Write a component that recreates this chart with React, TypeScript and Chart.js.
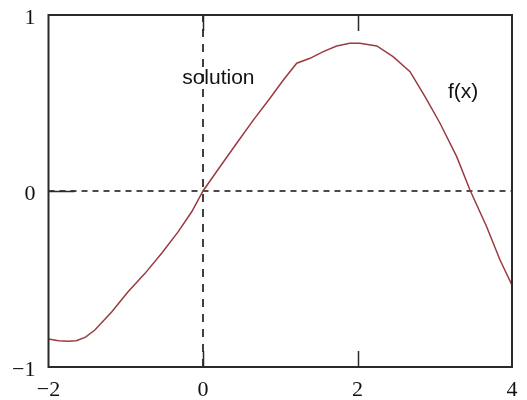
import React, { useEffect, useRef } from "react";
import { Chart, registerables } from "chart.js";

Chart.register(...registerables);

// f(x) sampled across the plotted range
const xValues = [-2, -1.87, -1.75, -1.64, -1.52, -1.4, -1.18, -0.97, -0.75, -0.535, -0.32, -0.146, 0, 0.22, 0.436, 0.651, 0.867, 1.04, 1.213, 1.385, 1.557, 1.73, 1.9, 2.03, 2.25, 2.46, 2.68, 2.874, 3.068, 3.284, 3.456, 3.672, 3.845, 4];
const fValues = [-0.841, -0.851, -0.853, -0.851, -0.83, -0.79, -0.686, -0.572, -0.468, -0.354, -0.231, -0.118, 0, 0.138, 0.271, 0.403, 0.527, 0.631, 0.726, 0.754, 0.792, 0.824, 0.839, 0.839, 0.824, 0.763, 0.678, 0.536, 0.385, 0.195, 0.006, -0.203, -0.392, -0.535];

// marker lines: the solution x = 0 and the zero level y = 0
const solutionX = [0, 0];
const solutionY = [-1, 1];
const zeroX = [-2, 4];
const zeroY = [0, 0];

const xTicks = [-2, 0, 2, 4];
const yTicks = [-1, 0, 1];
const innerTickX = [0, 2];
const innerTickY = [0];

const fmt = (v: number) => (v < 0 ? "\u2212" + Math.abs(v) : String(v));

const framePlugin = {
  id: "frame",
  afterDatasetsDraw(chart: any) {
    const { ctx, chartArea: a, scales } = chart;
    ctx.save();
    ctx.strokeStyle = "#2a2a2a";
    ctx.lineWidth = 2;
    ctx.strokeRect(a.left, a.top, a.right - a.left, a.bottom - a.top);
    ctx.lineWidth = 1.5;
    ctx.beginPath();
    innerTickX.forEach((v) => {
      const px = Math.round(scales.x.getPixelForValue(v)) + 0.5;
      ctx.moveTo(px, a.bottom);
      ctx.lineTo(px, a.bottom - 16);
      ctx.moveTo(px, a.top);
      ctx.lineTo(px, a.top + 16);
    });
    innerTickY.forEach((v) => {
      const py = Math.round(scales.y.getPixelForValue(v)) + 0.5;
      ctx.moveTo(a.left, py);
      ctx.lineTo(a.left + 26, py);
    });
    ctx.stroke();
    // text labels
    ctx.fillStyle = "#111";
    ctx.font = "21px 'Liberation Sans', Arial, sans-serif";
    ctx.textBaseline = "middle";
    ctx.textAlign = "left";
    ctx.fillText("solution", scales.x.getPixelForValue(-0.27), scales.y.getPixelForValue(0.64));
    ctx.fillText("f(x)", scales.x.getPixelForValue(3.17), scales.y.getPixelForValue(0.56));
    ctx.restore();
  },
};

export default function App() {
  const ref = useRef<HTMLCanvasElement>(null);

  useEffect(() => {
    if (!ref.current) return;
    const chart = new Chart(ref.current, {
      type: "scatter",
      data: {
        datasets: [
          {
            data: xValues.map((x, i) => ({ x, y: fValues[i] })),
            showLine: true,
            borderColor: "#9a3b40",
            borderWidth: 1.5,
            pointRadius: 0,
            tension: 0,
          },
          {
            data: solutionX.map((x, i) => ({ x, y: solutionY[i] })),
            showLine: true,
            borderColor: "#111",
            borderWidth: 1.6,
            borderDash: [8, 7],
            pointRadius: 0,
          },
          {
            data: zeroX.map((x, i) => ({ x, y: zeroY[i] })),
            showLine: true,
            borderColor: "#111",
            borderWidth: 1.6,
            borderDash: [6, 5],
            pointRadius: 0,
          },
        ],
      },
      options: {
        animation: false,
        responsive: false,
        devicePixelRatio: 1,
        layout: { padding: { left: 0, right: 15, top: 15, bottom: 0 } },
        plugins: { legend: { display: false }, tooltip: { enabled: false } },
        scales: {
          x: {
            type: "linear",
            min: -2,
            max: 4,
            afterFit: (s: any) => {
              s.height = 33;
              s.paddingLeft = 0;
              s.paddingRight = 0;
            },
            afterBuildTicks: (s: any) => {
              s.ticks = xTicks.map((v) => ({ value: v }));
            },
            grid: { display: false, drawTicks: false },
            border: { display: false },
            ticks: {
              padding: 10,
              color: "#111",
              font: { family: "'Liberation Serif', 'Times New Roman', serif", size: 22 },
              callback: (v: any) => fmt(Number(v)),
              maxRotation: 0,
            },
          },
          y: {
            type: "linear",
            min: -1,
            max: 1,
            afterFit: (s: any) => {
              s.width = 48.5;
              s.paddingTop = 0;
              s.paddingBottom = 0;
            },
            afterBuildTicks: (s: any) => {
              s.ticks = yTicks.map((v) => ({ value: v }));
            },
            grid: { display: false, drawTicks: false },
            border: { display: false },
            ticks: {
              padding: 13,
              labelOffset: 3,
              color: "#111",
              font: { family: "'Liberation Serif', 'Times New Roman', serif", size: 22 },
              callback: (v: any) => fmt(Number(v)),
            },
          },
        },
      },
      plugins: [framePlugin],
    });
    return () => chart.destroy();
  }, []);

  return (
    <div style={{ position: "fixed", left: 0, top: 0, width: 527, height: 400, background: "#fff" }}>
      <canvas ref={ref} width={527} height={400} style={{ display: "block" }} />
    </div>
  );
}
